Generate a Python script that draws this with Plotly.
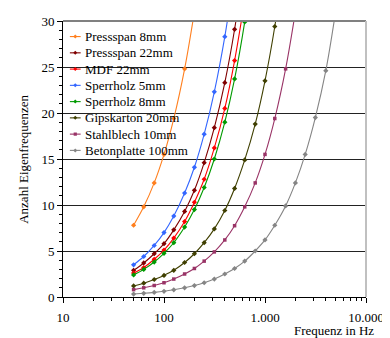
import plotly.graph_objects as go

# Third-octave band centre frequencies (Hz)
freq = [50, 63, 80, 100, 125, 160, 200, 250, 315, 400, 500, 630, 800,
        1000, 1250, 1600, 2000, 2500, 3150, 4000, 5000]

series_names = ["Pressspan 8mm", "Pressspan 22mm", "MDF 22mm", "Sperrholz 5mm",
                "Sperrholz 8mm", "Gipskarton 20mm", "Stahlblech 10mm", "Betonplatte 100mm"]

pressspan_8 = [7.8, 9.8, 12.4, 15.5, 19.4, 24.8, 31.0]
pressspan_22 = [2.9, 3.7, 4.7, 5.8, 7.3, 9.3, 11.6, 14.6, 18.4, 23.3, 29.1, 36.7]
mdf_22 = [2.6, 3.2, 4.1, 5.1, 6.4, 8.2, 10.3, 12.8, 16.2, 20.5, 25.7, 32.3]
sperrholz_5 = [3.5, 4.4, 5.6, 7.0, 8.8, 11.3, 14.1, 17.7, 22.3, 28.3, 35.4]
sperrholz_8 = [2.4, 3.0, 3.8, 4.75, 5.9, 7.6, 9.5, 11.9, 15.0, 19.0, 23.7, 29.9, 38.0]
gipskarton_20 = [1.2, 1.5, 1.9, 2.35, 2.9, 3.75, 4.7, 5.9, 7.4, 9.4, 11.8, 14.9,
                 18.8, 23.5, 29.4, 37.6]
stahlblech_10 = [0.8, 1.0, 1.25, 1.55, 1.95, 2.5, 3.1, 3.9, 4.9, 6.2, 7.75, 9.8,
                 12.4, 15.5, 19.4, 24.8, 31.0]
betonplatte_100 = [0.32, 0.4, 0.5, 0.62, 0.78, 1.0, 1.24, 1.55, 1.95, 2.5, 3.1, 3.9,
                   5.0, 6.2, 7.8, 9.9, 12.4, 15.5, 19.5, 24.6, 31.0]

values = [pressspan_8, pressspan_22, mdf_22, sperrholz_5, sperrholz_8,
          gipskarton_20, stahlblech_10, betonplatte_100]
colors = ["#ff7f1e", "#800000", "#ff0000", "#3366ff", "#009a00", "#3f3f00",
          "#993366", "#858585"]
symbols = ["diamond", "diamond", "diamond", "diamond", "diamond", "diamond",
           "square", "diamond"]

x_tickvals = [10, 100, 1000, 10000]
x_ticktext = ["10", "100", "1.000", "10.000"]
x_minor = [20, 30, 40, 50, 60, 70, 80, 90, 200, 300, 400, 500, 600, 700, 800, 900,
           2000, 3000, 4000, 5000, 6000, 7000, 8000, 9000]

FONT = "Liberation Serif, Times New Roman, serif"

# The page body has an 8 px default margin; figure is sized to fit the window.
PAGE_OFF = 8
W, H = 390 - PAGE_OFF, 338 - PAGE_OFF
PL, PR, PT, PB = 63, 372, 14, 297.5   # plot area in window pixels


def px(xw):
    return (xw - PL) / (PR - PL)


def py(yw):
    return (PB - yw) / (PB - PT)


fig = go.Figure()
for name, vals, col, sym in zip(series_names, values, colors, symbols):
    fig.add_trace(go.Scatter(
        x=freq[:len(vals)], y=vals, name=name, mode="lines+markers",
        line=dict(color=col, width=1.1, shape="spline"),
        marker=dict(color=col, size=4 if sym == "diamond" else 3.5, symbol=sym,
                    line=dict(width=0)),
        showlegend=False,
    ))

# white legend background (behind traces, above gridlines)
fig.add_shape(type="rect", xref="paper", yref="paper", x0=px(64), x1=px(185),
              y0=py(153), y1=py(19), fillcolor="white", line_width=0, layer="between")

# manual legend
for i, (name, col, sym) in enumerate(zip(series_names, colors, symbols)):
    yc = 30.0 + 16.7 * i
    fig.add_shape(type="line", xref="paper", yref="paper", x0=px(70), x1=px(81),
                  y0=py(yc), y1=py(yc), line=dict(color=col, width=1.1), layer="above")
    if sym == "square":
        path = "M-1.6,-1.6 L1.6,-1.6 L1.6,1.6 L-1.6,1.6 Z"
    else:
        path = "M0,-2 L2,0 L0,2 L-2,0 Z"
    fig.add_shape(type="path", xref="paper", yref="paper", xsizemode="pixel",
                  ysizemode="pixel", xanchor=px(75.5), yanchor=py(yc), path=path,
                  fillcolor=col, line_width=0, layer="above")
    fig.add_annotation(text=name, xref="paper", yref="paper", x=px(83), y=py(yc),
                       xanchor="left", yanchor="middle", showarrow=False,
                       font=dict(family=FONT, size=13, color="#000"))

# plot frame: top and right
fig.add_shape(type="line", xref="paper", yref="paper", x0=0, x1=1, y0=1, y1=1,
              line=dict(color="#808080", width=2), layer="above")
fig.add_shape(type="line", xref="paper", yref="paper", x0=1, x1=1, y0=0, y1=1,
              line=dict(color="#c0c0c0", width=2), layer="above")

fig.add_annotation(text="Anzahl Eigenfrequenzen", xref="paper", yref="paper",
                   x=px(22), y=0.5, xanchor="center", yanchor="middle",
                   textangle=-90, showarrow=False,
                   font=dict(family=FONT, size=13, color="#000"))
fig.add_annotation(text="Frequenz in Hz", xref="paper", yref="paper",
                   x=px(382), y=py(331.5), xanchor="right", yanchor="middle",
                   showarrow=False, font=dict(family=FONT, size=13, color="#000"))

fig.update_layout(
    width=W, height=H,
    margin=dict(l=PL - PAGE_OFF, r=(W + PAGE_OFF) - PR, t=PT - PAGE_OFF,
                b=(H + PAGE_OFF) - PB, pad=0),
    paper_bgcolor="white", plot_bgcolor="white",
    font=dict(family=FONT, size=13, color="#000"),
    showlegend=False,
    xaxis=dict(type="log", range=[1, 4], tickmode="array",
               tickvals=x_tickvals, ticktext=x_ticktext,
               ticks="outside", ticklen=5, tickcolor="#000", tickwidth=1,
               showgrid=False, zeroline=False,
               showline=True, linecolor="#000", linewidth=1,
               ticklabelstandoff=3, ticklabeloverflow="allow",
               minor=dict(tickvals=x_minor, ticks="outside", ticklen=3,
                          tickcolor="#000", showgrid=False)),
    yaxis=dict(range=[0, 30], tickmode="linear", tick0=0, dtick=5,
               ticks="outside", ticklen=5, tickcolor="#000", tickwidth=1,
               showgrid=True, gridcolor="#222", gridwidth=1,
               zeroline=False, showline=True, linecolor="#000", linewidth=1,
               ticklabeloverflow="allow",
               minor=dict(dtick=1, ticks="outside", ticklen=3,
                          tickcolor="#000", showgrid=False)),
)

fig.write_html("out.html")
